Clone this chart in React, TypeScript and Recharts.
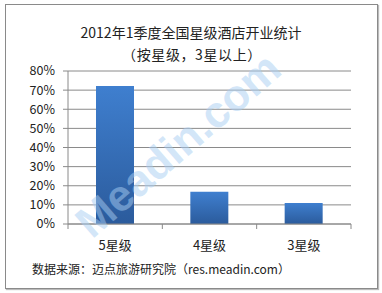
import { BarChart, Bar, XAxis, YAxis, CartesianGrid } from "recharts";

const categories = ["5星级", "4星级", "3星级"];
const shares = [72.2, 16.8, 11];
const yTicks = [0, 10, 20, 30, 40, 50, 60, 70, 80];

const title = "2012年1季度全国星级酒店开业统计";
const subtitle = "（按星级，3星以上）";
const source = "数据来源：迈点旅游研究院（res.meadin.com）";

const data = categories.map((name, i) => ({ name, value: shares[i] }));

const font = "'Microsoft YaHei', 'Noto Sans CJK SC', 'Noto Sans', sans-serif";

// Excel style: ticks sit on category boundaries, labels in the middle
const CategoryTick = (props: any) => {
    const { x, y, payload, index, width, visibleTicksCount } = props;
    const band = width / visibleTicksCount;
    return (
        <g>
            <line x1={x - band / 2} y1={y - 8} x2={x - band / 2} y2={y - 3} stroke="#8a8a8a" />
            {index === visibleTicksCount - 1 && (
                <line x1={x + band / 2} y1={y - 8} x2={x + band / 2} y2={y - 3} stroke="#8a8a8a" />
            )}
            <text x={x} y={y + 18} textAnchor="middle" fontSize={13} fill="#222" fontFamily={font}>
                {payload.value}
            </text>
        </g>
    );
};

export default function App() {
    return (
        <div style={{ position: "relative", width: 382, height: 293, background: "#fff", fontFamily: font }}>
            <style>{"body{margin:0}"}</style>
            <div
                style={{
                    position: "absolute",
                    left: 5,
                    top: 4,
                    width: 371,
                    height: 283,
                    border: "1px solid #8a8a8a",
                    boxShadow: "1px 1px 1px #bbb",
                }}
            />
            <div style={{ position: "absolute", top: 22, width: 382, textAlign: "center", fontSize: 14, color: "#222" }}>
                {title}
            </div>
            <div style={{ position: "absolute", top: 44, left: 1, width: 382, textAlign: "center", fontSize: 14, color: "#222", letterSpacing: 0.6 }}>
                {subtitle}
            </div>
            <div style={{ position: "absolute", top: 260, left: 32, fontSize: 12, color: "#222" }}>{source}</div>
            <div style={{ position: "absolute", left: 0, top: 0 }}>
                <BarChart width={382} height={293} data={data} margin={{ top: 71, right: 31, bottom: 39, left: 8 }} barCategoryGap="30%">
                    <defs>
                        <linearGradient id="barFill" x1="0" y1="0" x2="0" y2="1">
                            <stop offset="0%" stopColor="#3f7fcf" />
                            <stop offset="100%" stopColor="#2b5b9c" />
                        </linearGradient>
                    </defs>
                    <CartesianGrid vertical={false} stroke="#8a8a8a" />
                    <XAxis
                        dataKey="name"
                        axisLine={{ stroke: "#8a8a8a" }}
                        tickLine={false}
                        tick={<CategoryTick />}
                        interval={0}
                        height={30}
                    />
                    <YAxis
                        domain={[0, 80]}
                        ticks={yTicks}
                        interval={0}
                        width={60}
                        tickFormatter={(v: number) => `${v}%`}
                        axisLine={{ stroke: "#8a8a8a" }}
                        tickLine={{ stroke: "#8a8a8a" }}
                        tickSize={5}
                        tickMargin={8}
                        tick={{ fontSize: 12.5, fill: "#222", fontFamily: font }}
                    />
                    <Bar dataKey="value" fill="url(#barFill)" barSize={38} isAnimationActive={false} />
                </BarChart>
            </div>
            <svg width={382} height={293} style={{ position: "absolute", left: 0, top: 0, pointerEvents: "none" }}>
                <text
                    x={178}
                    y={160}
                    textAnchor="middle"
                    fontSize={44}
                    fontWeight="bold"
                    fontFamily="Arial, 'Liberation Sans', sans-serif"
                    fill="#a8cdf2"
                    fillOpacity={0.5}
                    transform="rotate(-41 178 145)"
                >
                    Meadin.com
                </text>
            </svg>
        </div>
    );
}
